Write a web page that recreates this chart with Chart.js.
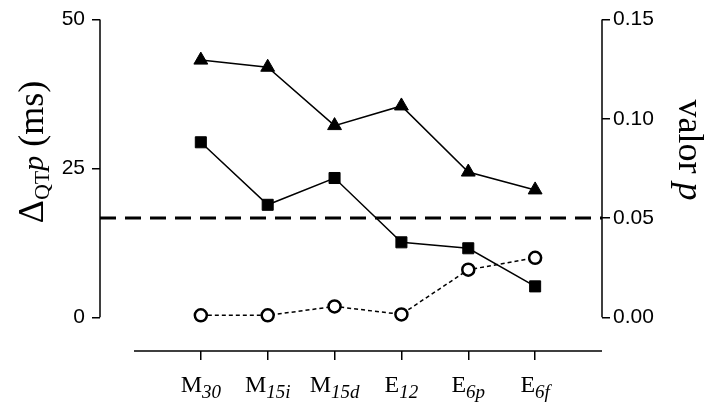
<!DOCTYPE html>
<html>
<head>
<meta charset="utf-8">
<title>ΔQTp y valor p</title>
<script src="https://cdn.jsdelivr.net/npm/chart.js@4.4.0/dist/chart.umd.min.js"></script>
<style>
  html, body { margin: 0; padding: 0; background: #fff; }
</style>
</head>
<body>
<canvas id="qtChart" width="712" height="407"></canvas>
<script>
// Categorías: letra + subíndice (en cursiva)
const catMain = ["M", "M", "M", "E", "E", "E"];
const catSub = ["30", "15i", "15d", "12", "6p", "6f"];

// ΔQTp (ms), eje izquierdo
const deltaTri = [43.2, 42.0, 32.2, 35.5, 24.4, 21.4];
const deltaSq = [29.4, 18.9, 23.4, 12.6, 11.6, 5.2];

// valor p, eje derecho
const pValues = [0.001, 0.001, 0.0055, 0.0015, 0.024, 0.030];
const pThreshold = 0.05;

const leftTicks = [0, 25, 50];
const rightTicks = [0, 0.05, 0.10, 0.15];

// rango del eje x (los extremos dejan sitio al eje desplazado)
const xMin = -1.508;
const xMax = 6;

const SERIF = "'Liberation Serif', 'Times New Roman', serif";
const SANS = "'Liberation Sans', Arial, sans-serif";

function toPoints(values) {
  return values.map((v, i) => ({ x: i, y: v }));
}

// dibuja varios trozos de texto seguidos, centrados en (0,0)
function drawRuns(ctx, runs) {
  let total = 0;
  runs.forEach((r) => {
    ctx.font = r.font;
    r.w = ctx.measureText(r.text).width;
    total += r.w;
  });
  let x = -total / 2;
  runs.forEach((r) => {
    ctx.font = r.font;
    ctx.fillText(r.text, x, r.dy || 0);
    x += r.w;
  });
}

const axesPlugin = {
  id: "axesPlugin",
  afterDraw(chart) {
    const ctx = chart.ctx;
    const area = chart.chartArea;
    const xs = chart.scales.x;
    const yL = chart.scales.yL;
    const yR = chart.scales.yR;

    ctx.save();
    ctx.strokeStyle = "#000";
    ctx.lineWidth = 1.5;
    ctx.beginPath();
    // eje izquierdo
    ctx.moveTo(area.left, yL.getPixelForValue(0));
    ctx.lineTo(area.left, yL.getPixelForValue(50));
    // eje derecho
    ctx.moveTo(area.right, yR.getPixelForValue(0));
    ctx.lineTo(area.right, yR.getPixelForValue(0.15));
    // eje x
    ctx.moveTo(xs.getPixelForValue(-1), area.bottom);
    ctx.lineTo(xs.getPixelForValue(6), area.bottom);
    ctx.stroke();

    ctx.fillStyle = "#000";
    ctx.textBaseline = "alphabetic";
    ctx.textAlign = "left";

    // etiquetas de categoría con subíndice
    catMain.forEach((m, i) => {
      ctx.save();
      ctx.translate(xs.getPixelForValue(i), 392);
      drawRuns(ctx, [
        { text: m, font: "24px " + SERIF },
        { text: catSub[i], font: "italic 19px " + SERIF, dy: 6 }
      ]);
      ctx.restore();
    });

    // título eje izquierdo
    ctx.save();
    ctx.translate(43, 152);
    ctx.rotate(-Math.PI / 2);
    drawRuns(ctx, [
      { text: "Δ", font: "36px " + SERIF },
      { text: "QT", font: "22px " + SERIF, dy: 6 },
      { text: "p", font: "italic 30px " + SERIF },
      { text: " (ms)", font: "36px " + SERIF }
    ]);
    ctx.restore();

    // título eje derecho
    ctx.save();
    ctx.translate(679, 150);
    ctx.rotate(Math.PI / 2);
    drawRuns(ctx, [
      { text: "valor ", font: "36px " + SERIF },
      { text: "p", font: "italic 36px " + SERIF }
    ]);
    ctx.restore();

    ctx.restore();
  }
};

const tickFont = { family: SANS, size: 21 };
const axisGrid = (len) => ({
  drawOnChartArea: false,
  drawTicks: true,
  tickLength: len,
  color: "#000",
  lineWidth: 1.5
});

new Chart(document.getElementById("qtChart").getContext("2d"), {
  type: "line",
  data: {
    datasets: [
      {
        data: toPoints(deltaTri),
        yAxisID: "yL",
        borderColor: "#000",
        borderWidth: 1.5,
        pointStyle: "triangle",
        pointRadius: 8,
        pointBackgroundColor: "#000",
        pointBorderColor: "#000",
        pointBorderWidth: 1,
        order: 1
      },
      {
        data: toPoints(deltaSq),
        yAxisID: "yL",
        borderColor: "#000",
        borderWidth: 1.5,
        pointStyle: "rect",
        pointRadius: 7.8,
        pointBackgroundColor: "#000",
        pointBorderColor: "#000",
        pointBorderWidth: 1,
        order: 2
      },
      {
        data: toPoints(pValues),
        yAxisID: "yR",
        borderColor: "#000",
        borderWidth: 1.5,
        borderDash: [4, 3],
        pointStyle: "circle",
        pointRadius: 6,
        pointBackgroundColor: "#fff",
        pointBorderColor: "#000",
        pointBorderWidth: 2.5,
        order: 3
      },
      {
        // línea de referencia p = 0.05
        data: [{ x: xMin, y: pThreshold }, { x: xMax, y: pThreshold }],
        yAxisID: "yR",
        borderColor: "#000",
        borderWidth: 3,
        borderDash: [16, 9],
        pointRadius: 0,
        order: 10
      }
    ]
  },
  options: {
    responsive: false,
    animation: false,
    devicePixelRatio: 1,
    layout: { padding: { top: 16, left: 0, right: 0, bottom: 0 } },
    plugins: {
      legend: { display: false },
      tooltip: { enabled: false }
    },
    scales: {
      x: {
        type: "linear",
        position: "bottom",
        min: xMin,
        max: xMax,
        afterBuildTicks: (s) => { s.ticks = catMain.map((_, i) => ({ value: i })); },
        afterFit: (s) => { s.height = 56; },
        ticks: { display: false },
        grid: axisGrid(9),
        border: { display: false }
      },
      yL: {
        type: "linear",
        position: "left",
        min: -5.65,
        max: 50,
        afterBuildTicks: (s) => { s.ticks = leftTicks.map((v) => ({ value: v })); },
        afterFit: (s) => { s.width = 100; },
        ticks: { color: "#000", font: tickFont, padding: 7 },
        grid: axisGrid(8),
        border: { display: false }
      },
      yR: {
        type: "linear",
        position: "right",
        min: -0.01695,
        max: 0.15,
        afterBuildTicks: (s) => { s.ticks = rightTicks.map((v) => ({ value: v })); },
        afterFit: (s) => { s.width = 110; },
        ticks: {
          color: "#000",
          font: tickFont,
          padding: 3,
          callback: (v) => Number(v).toFixed(2)
        },
        grid: axisGrid(8),
        border: { display: false }
      }
    }
  },
  plugins: [axesPlugin]
});
</script>
</body>
</html>
